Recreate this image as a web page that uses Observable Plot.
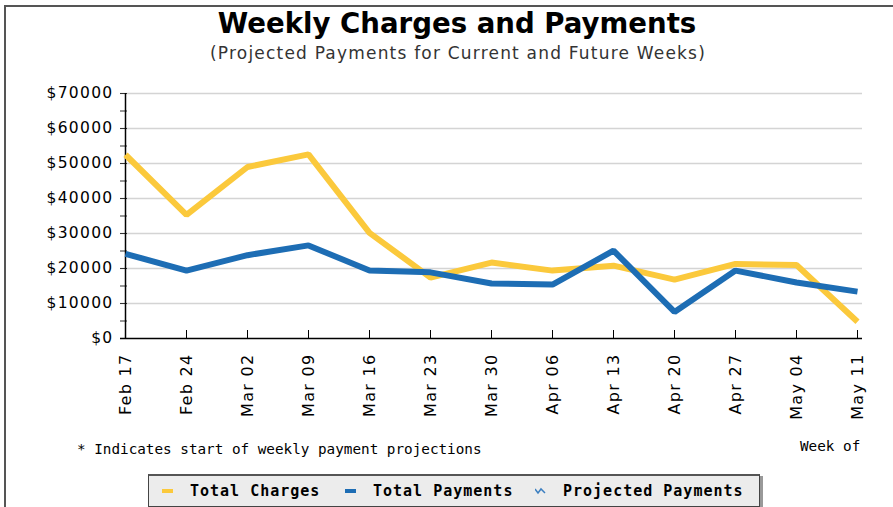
<!DOCTYPE html>
<html>
<head>
<meta charset="utf-8">
<script src="https://cdn.jsdelivr.net/npm/d3@7"></script>
<script src="https://cdn.jsdelivr.net/npm/@observablehq/plot@0.6"></script>
<style>
  html, body { margin: 0; padding: 0; background: #fff; }
  #wrap { position: relative; width: 893px; height: 507px; overflow: hidden; background: #fff; }
  .bt { position: absolute; left: 4px; top: 5px; right: 0; height: 2px; background: #555; }
  .bl { position: absolute; left: 4px; top: 5px; bottom: 0; width: 2px; background: #555; }
  .title { position: absolute; left: 0; width: 914px; top: 9px; text-align: center;
    font: bold 27.6px/30px "DejaVu Sans", sans-serif; color: #000; }
  .subtitle { position: absolute; left: 0; width: 916px; top: 43px; text-align: center;
    font: 17px/20px "DejaVu Sans", sans-serif; color: #333; letter-spacing: 1.2px; }
  .note { position: absolute; left: 77px; top: 440px; font: 14.3px/18px "DejaVu Sans Mono", monospace; color: #000; }
  .weekof { position: absolute; left: 800px; top: 437px; font: 14.3px/18px "DejaVu Sans Mono", monospace; color: #000; }
  #chart { position: absolute; left: 0; top: 0; }
  .legend { position: absolute; left: 148px; top: 474px; width: 610px; height: 30px;
    background: #ececec; border: 1px solid #444; border-top: 2px solid #555;
    box-shadow: 3px 2px 0 #999; font: bold 15px/30px "DejaVu Sans Mono", monospace; letter-spacing: 1px; color: #000; }
  .item { position: absolute; top: 0; white-space: nowrap; }
  .sw { position: absolute; top: 13px; width: 11px; height: 4px; }
  .sw svg { display: block; }
</style>
</head>
<body>
<div id="wrap">
  <div class="bt"></div><div class="bl"></div>
  <div class="title">Weekly Charges and Payments</div>
  <div class="subtitle">(Projected Payments for Current and Future Weeks)</div>
  <div id="chart"></div>
  <div class="note">* Indicates start of weekly payment projections</div>
  <div class="weekof">Week of</div>
  <div class="legend" id="legend"></div>
</div>
<script>
const weeks = ["Feb 17", "Feb 24", "Mar 02", "Mar 09", "Mar 16", "Mar 23", "Mar 30",
               "Apr 06", "Apr 13", "Apr 20", "Apr 27", "May 04", "May 11"];
const totalCharges  = [52500, 35300, 49000, 52600, 30200, 17400, 21700, 19400, 20800, 16800, 21300, 21000, 4800];
const totalPayments = [24200, 19400, 23800, 26600, 19400, 18900, 15700, 15400, 25100, 7600, 19400, 16000, 13400];
const seriesNames = ["Total Charges", "Total Payments", "Projected Payments"];
const seriesColors = ["#fbc93c", "#1d6db4", "#3c7fc0"];
const yTicks = [0, 10000, 20000, 30000, 40000, 50000, 60000, 70000];
const yMinorTicks = [5000, 15000, 25000, 35000, 45000, 55000, 65000];

const rows = [];
weeks.forEach((w, i) => rows.push({week: w, value: totalCharges[i], series: seriesNames[0]}));
weeks.forEach((w, i) => rows.push({week: w, value: totalPayments[i], series: seriesNames[1]}));

const font = "DejaVu Sans";
const chart = Plot.plot({
  width: 893,
  height: 430,
  marginTop: 93,
  marginLeft: 120,
  marginRight: 31,
  marginBottom: 92,
  style: {fontFamily: font, fontSize: "15px", color: "#000", background: "transparent", letterSpacing: "1.3px"},
  x: {type: "point", domain: weeks, padding: 0, label: null},
  y: {domain: [0, 70000], label: null},
  color: {domain: seriesNames, range: seriesColors},
  marks: [
    Plot.gridY(yTicks.slice(1), {stroke: "#d4d4d4", strokeOpacity: 1, strokeWidth: 1.5}),
    Plot.axisY(yTicks.concat(yMinorTicks), {tickSize: -7, tickFormat: () => "", stroke: "#333", label: null}),
    Plot.axisY(yTicks, {tickSize: 0, tickPadding: 7, tickFormat: d => "$" + d, label: null, fontSize: 15.5}),
    Plot.axisX(weeks, {tickSize: -8, tickFormat: () => "", stroke: "#000", label: null}),
    Plot.axisX(weeks, {tickSize: 0, tickPadding: 15, tickRotate: -90, label: null, fontSize: 16}),
    Plot.ruleX([weeks[0]], {stroke: "#000", strokeWidth: 1.5}),
    Plot.ruleY([0], {stroke: "#000", strokeWidth: 1.5}),
    Plot.line(rows, {x: "week", y: "value", stroke: "series", z: "series",
      strokeWidth: 6, strokeLinejoin: "miter", strokeLinecap: "butt"})
  ]
});
document.getElementById("chart").appendChild(chart);

// legend
const legend = document.getElementById("legend");
const pos = [[13, 41], [196, 224], [386, 414]];
seriesNames.forEach((name, i) => {
  const sw = document.createElement("div");
  sw.className = "sw";
  sw.style.left = pos[i][0] + "px";
  if (i < 2) {
    sw.style.background = seriesColors[i];
  } else {
    sw.style.top = "10px";
    sw.style.height = "10px";
    sw.innerHTML = '<svg width="11" height="10"><polyline points="0,3 3,7 6,3 10,7" fill="none" stroke="' + seriesColors[i] + '" stroke-width="1.5"/></svg>';
  }
  legend.appendChild(sw);
  const t = document.createElement("div");
  t.className = "item";
  t.style.left = pos[i][1] + "px";
  t.textContent = name;
  legend.appendChild(t);
});
</script>
</body>
</html>
